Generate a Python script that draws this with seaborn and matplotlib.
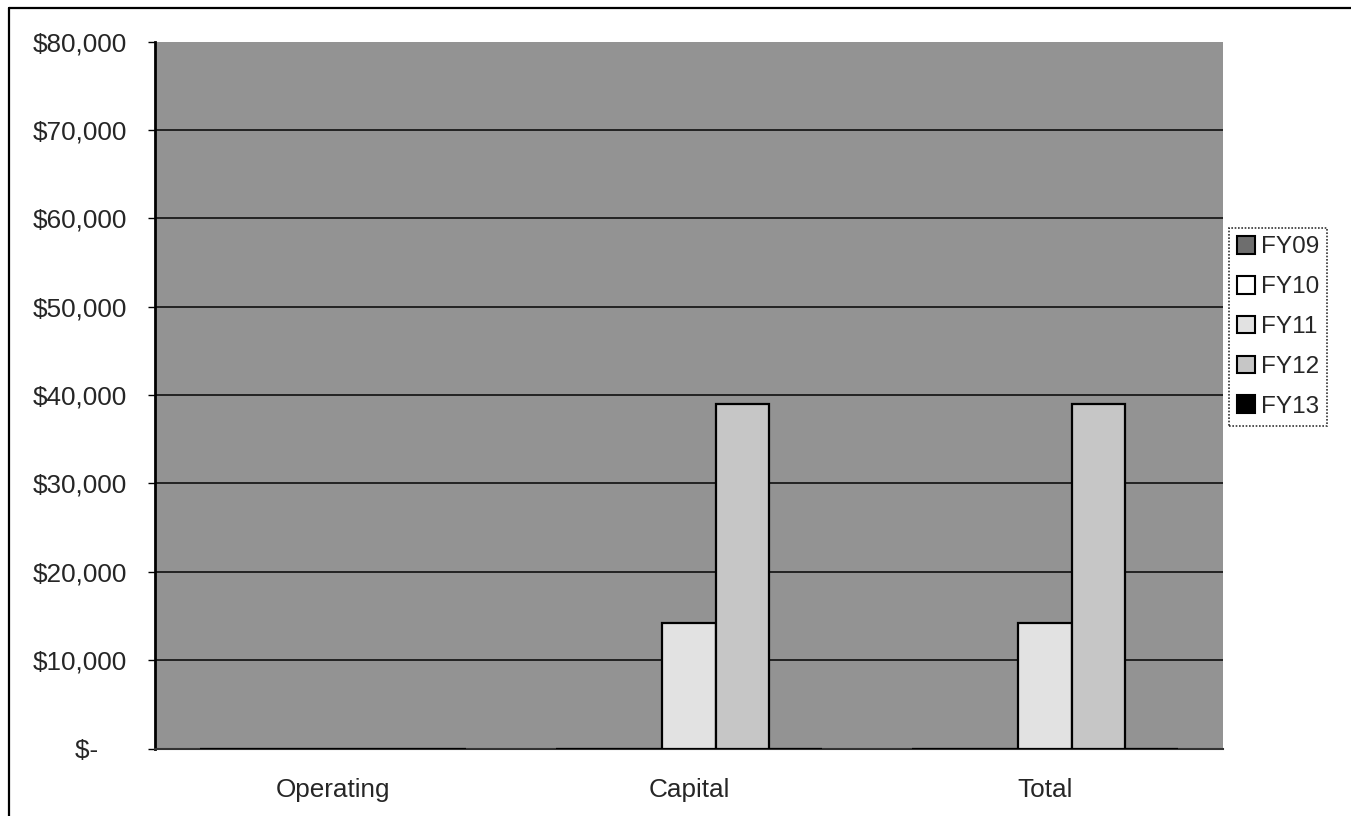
import matplotlib
matplotlib.use("Agg")
import matplotlib.pyplot as plt
from matplotlib.lines import Line2D
import seaborn as sns
import pandas as pd

# ---- data ----
categories = ["Operating", "Capital", "Total"]
years = ["FY09", "FY10", "FY11", "FY12", "FY13"]
fy09 = [0, 0, 0]
fy10 = [0, 0, 0]
fy11 = [0, 14200, 14200]
fy12 = [0, 39000, 39000]
fy13 = [0, 0, 0]
y_ticks = [0, 10000, 20000, 30000, 40000, 50000, 60000, 70000, 80000]
y_tick_labels = ["$-    ", "$10,000", "$20,000", "$30,000", "$40,000",
                 "$50,000", "$60,000", "$70,000", "$80,000"]

series = dict(zip(years, [fy09, fy10, fy11, fy12, fy13]))
rows = []
for yr, vals in series.items():
    for cat, v in zip(categories, vals):
        rows.append({"category": cat, "year": yr, "value": v})
df = pd.DataFrame(rows)

colors = {"FY09": "#6e6e6e", "FY10": "#ffffff", "FY11": "#e2e2e2",
          "FY12": "#c6c6c6", "FY13": "#000000"}

sns.set_style("white")
plt.rcParams["font.family"] = ["Liberation Sans", "DejaVu Sans"]
FS = 18.8

W, H = 1351, 816
fig = plt.figure(figsize=(W / 100, H / 100), dpi=100)
ax = fig.add_axes([155 / W, 1 - 748.5 / H, (1223 - 155) / W, (748.5 - 41.7) / H])
ax.set_facecolor("#939393")

sns.barplot(data=df, x="category", y="value", hue="year", hue_order=years,
            order=categories, palette=colors, width=0.745, edgecolor="black",
            linewidth=1.6, ax=ax, zorder=3)

ax.set_ylim(y_ticks[0], y_ticks[-1])
ax.set_xlim(-0.5, len(categories) - 0.5)
for v in y_ticks[1:-1]:
    ax.axhline(v, color="#1a1a1a", linewidth=1.3, zorder=1)

ax.set_yticks(y_ticks)
ax.set_yticklabels(y_tick_labels, fontsize=FS)
ax.set_xticks(range(len(categories)))
ax.set_xticklabels(categories, fontsize=FS)
ax.set_xlabel("")
ax.set_ylabel("")

# category boundary ticks on x axis
ax.set_xticks([i - 0.5 for i in range(len(categories) + 1)], minor=True)
ax.tick_params(axis="x", which="major", length=0, pad=21.5)
ax.tick_params(axis="x", which="minor", length=5, width=1, color="black", direction="out")
ax.tick_params(axis="y", length=5, width=1, color="black", direction="out", pad=15, left=True)

for s in ["top", "right"]:
    ax.spines[s].set_visible(False)
ax.spines["left"].set_color("black")
ax.spines["left"].set_linewidth(2)
ax.spines["bottom"].set_color("#333333")
ax.spines["bottom"].set_linewidth(1.5)

leg = ax.legend(loc="upper left", bbox_to_anchor=(1229 / W, 1 - 228 / H),
                bbox_transform=fig.transFigure, fontsize=FS * 0.93, frameon=True,
                fancybox=False, edgecolor="black", handlelength=0.75,
                handleheight=0.75, handletextpad=0.22, labelspacing=0.72,
                borderpad=0.33, borderaxespad=0)
leg.get_frame().set_linewidth(1.2)
leg.get_frame().set_linestyle((0, (1, 1)))
for h in leg.legend_handles:
    h.set_edgecolor("black")
    h.set_linewidth(1.5)

# figure border (top and left visible in reference)
fig.add_artist(Line2D([9 / W, 1], [1 - 8 / H, 1 - 8 / H], transform=fig.transFigure,
                      color="black", linewidth=1.6))
fig.add_artist(Line2D([9 / W, 9 / W], [0, 1 - 8 / H], transform=fig.transFigure,
                      color="black", linewidth=1.6))

fig.savefig("out.png", dpi=100)
